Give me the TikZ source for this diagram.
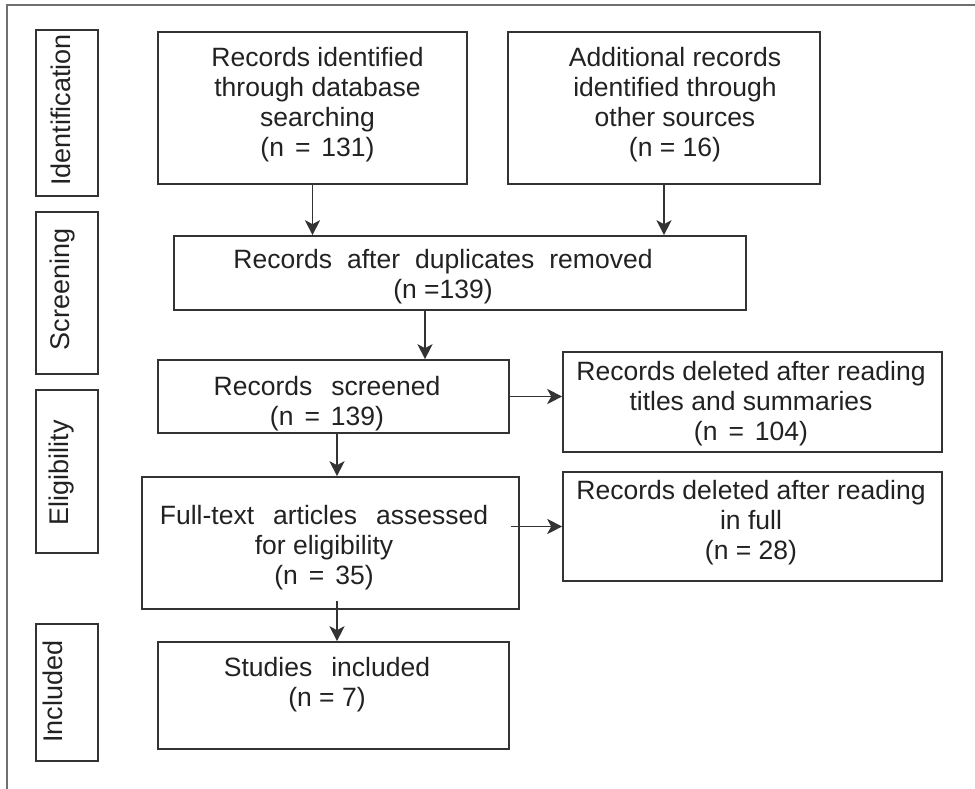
\documentclass[tikz,border=0pt]{standalone}
\usepackage{fontspec}
\setmainfont{Liberation Sans}
\usetikzlibrary{arrows.meta,calc}
\definecolor{linec}{HTML}{333333}
\definecolor{framec}{HTML}{707070}
\definecolor{textc}{HTML}{222222}
\newcommand{\wsa}{\hspace{15pt}}
\newcommand{\wsb}{\hspace{19pt}}
\newcommand{\wsc}{\hspace{19pt}}
\newcommand{\wsn}{\hspace{11pt}}
\begin{document}
\begin{tikzpicture}[x=1pt,y=-1pt,
  box/.style={draw=linec, line width=1.6pt, rectangle, inner sep=0pt, fill=none},
  txt/.style={text=textc, align=center, inner sep=0pt, font=\fontsize{26.5}{30}\selectfont},
  side/.style={text=textc, rotate=90, anchor=base, inner sep=0pt, font=\fontsize{27}{30}\selectfont},
  arr/.style={draw=linec, line width=1.8pt, -{Stealth[length=15pt,width=15pt,inset=4pt]}}]
\useasboundingbox (0,0) rectangle (975,789);
\fill[white] (0,0) rectangle (975,789);
% outer frame (open right and bottom)
\draw[framec, line width=1.6pt] (7,789) -- (7,5) -- (975,5);

% side boxes
\node[box, minimum width=62pt, minimum height=166pt] (sid) at (67,113) {};
\node[box, minimum width=62pt, minimum height=162pt] (ssc) at (67,293) {};
\node[box, minimum width=62pt, minimum height=163pt] (sel) at (67,471.5) {};
\node[box, minimum width=62pt, minimum height=137pt] (sin) at (67,692.5) {};
\node[side] (lid) at (70,110) {Identification};
\node[side] (lsc) at (69,289.5) {Screening};
\node[side] (lel) at (68,472.5) {Eligibility};
\node[side] (lin) at (62,691.5) {Included};

% main boxes
\node[box, minimum width=309pt, minimum height=152pt] (b1) at (312.5,108) {};
\node[box, minimum width=312pt, minimum height=152pt] (b2) at (664,108) {};
\node[box, minimum width=572pt, minimum height=74pt] (dup) at (460,273) {};
\node[box, minimum width=351pt, minimum height=73pt] (scr) at (333.5,396.5) {};
\node[box, minimum width=379pt, minimum height=100pt] (del1) at (752.5,402) {};
\node[box, minimum width=377pt, minimum height=132pt] (full) at (330.5,543) {};
\node[box, minimum width=379pt, minimum height=109pt] (del2) at (752.5,526.5) {};
\node[box, minimum width=351pt, minimum height=107pt] (inc) at (333.5,695.5) {};

% texts
\node[txt] (t1) at ($(b1.center)+(5,-3)$) {Records identified\\through database\\searching\\(n\wsn=\wsn131)};
\node[txt] (t2) at ($(b2.center)+(11,-3)$) {Additional records\\identified through\\other sources\\(n = 16)};
\node[txt] (tdup) at ($(dup.center)+(-17,3.5)$) {Records\wsa after\wsa duplicates\wsa removed\\(n =139)};
\node[txt] (tscr) at ($(scr.center)+(-6.5,7.5)$) {Records\wsc screened\\(n\wsn=\wsn139)};
\node[txt] (tdel1) at ($(del1.center)+(-1.5,2)$) {Records deleted after reading\\titles and summaries\\(n\wsn=\wsn104)};
\node[txt] (tfull) at ($(full.center)+(-6.5,4.5)$) {Full-text\wsb articles\wsb assessed\\for eligibility\\(n\wsn=\wsn35)};
\node[txt] (tdel2) at ($(del2.center)+(-1.5,-4)$) {Records deleted after reading\\in full\\(n = 28)};
\node[txt] (tinc) at ($(inc.center)+(-6.5,-11)$) {Studies\wsb included\\(n = 7)};

% arrows
\draw[arr] (b1.south) -- (b1.south |- dup.north);
\draw[arr] (b2.south) -- (b2.south |- dup.north);
\coordinate (d1) at ($(dup.south)+(-35,0)$);
\draw[arr] (d1) -- (d1 |- scr.north);
\draw[arr] (scr.east) -- (scr.east -| del1.west);
\coordinate (s1) at ($(scr.south)+(3.5,0)$);
\draw[arr] (s1) -- (s1 |- full.north);
\coordinate (f1) at ($(full.east |- del2.west)+(-9,0)$);
\draw[arr] (f1) -- (f1 -| del2.west);
\coordinate (f2) at ($(full.south)+(6.5,-9)$);
\draw[arr] (f2) -- (f2 |- inc.north);
\end{tikzpicture}
\end{document}
